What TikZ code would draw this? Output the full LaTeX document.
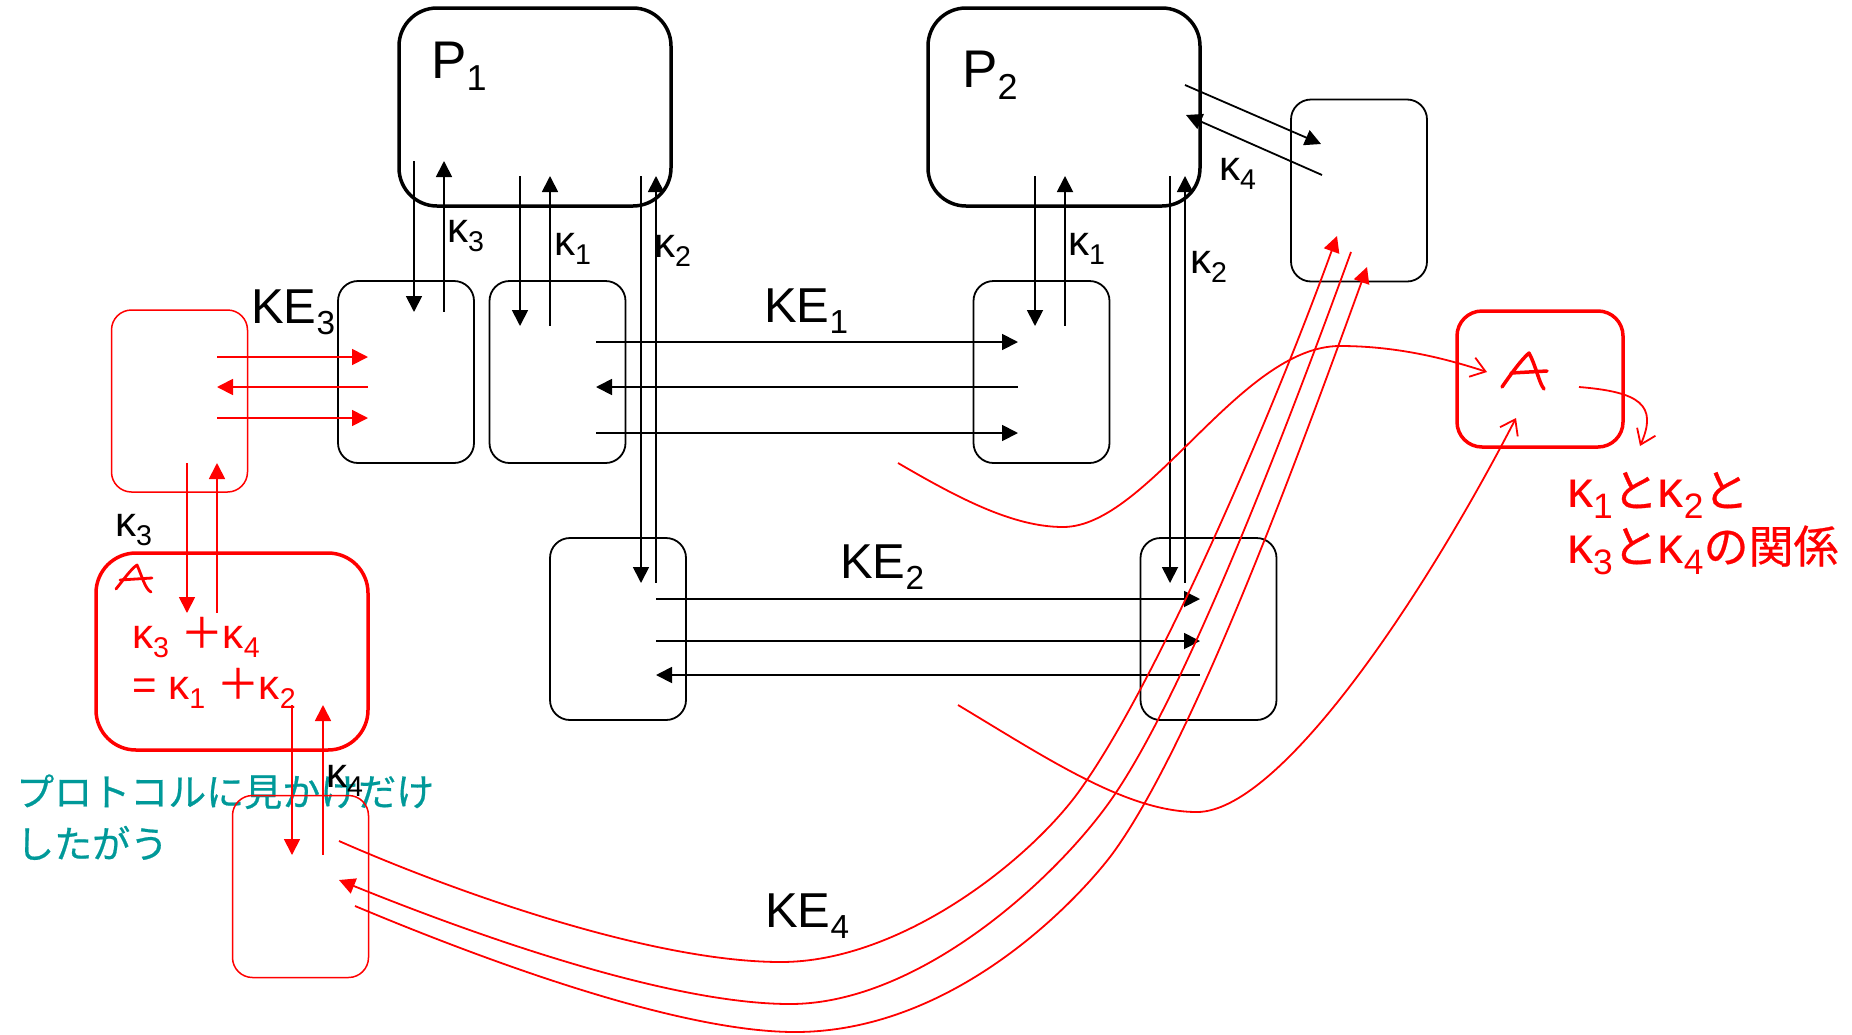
\documentclass[tikz,border=0pt]{standalone}
\usepackage{graphicx}
\usepackage{fontspec}
\setmainfont{Liberation Sans}
\newfontfamily\jp{Noto Sans CJK JP}[FakeBold=0.6]
\usetikzlibrary{arrows.meta}

\definecolor{notecyan}{RGB}{0,153,153}

% lowered index, as in P_1, KE_3
\newcommand{\idx}[1]{\raisebox{-0.23em}{\scalebox{0.68}{#1}}}
\newcommand{\kap}[1]{κ\idx{#1}}

\tikzset{
  pbox/.style={draw, line width=3.5pt, rounded corners=38pt, minimum width=272pt, minimum height=198pt, inner sep=0pt},
  kebox/.style={draw, line width=1.8pt, rounded corners=20pt, minimum width=136pt, minimum height=182pt, inner sep=0pt},
  rbox/.style={kebox, draw=red, line width=1.5pt},
  abox/.style={draw=red, line width=3.5pt, inner sep=0pt},
  link/.style={line width=1.8pt},
  rlink/.style={link, red},
  barb/.style={red, line width=1.8pt, -{Straight Barb[length=14pt,width=20pt]}},
  hand/.style={red, line width=2.8pt, line cap=round, line join=round},
  lbl/.style={inner sep=0pt, anchor=base west, font=\fontsize{42}{48}\selectfont},
  kelbl/.style={lbl, font=\fontsize{49}{56}\selectfont},
  plbl/.style={lbl, font=\fontsize{53}{60}\selectfont},
  rlbl/.style={lbl, text=red},
  rjp/.style={lbl, text=red, font=\fontsize{52}{58}\selectfont},
  note/.style={inner sep=0pt, anchor=base west, text=notecyan, font=\jp\fontsize{38}{44}\selectfont}
}
% Japanese inside the red remark
\newcommand{\rj}[1]{{\jp\fontsize{45}{52}\selectfont #1}}

\begin{document}
\begin{tikzpicture}[x=1pt, y=-1pt, >={Triangle[length=16pt,width=16pt]}]
\useasboundingbox (0,0) rectangle (1852,1034);

% remark on the left
\node[note] (note1) at (16,806) {プロトコルに見かけだけ};
\node[note] (note2) at (16,858) {したがう};

% parties
\node[pbox] (p1) at (535,107) {};
\node[pbox] (p2) at (1064,107) {};

% key exchanges
\node[kebox] (ke3) at (406,372) {};
\node[kebox] (ke1a) at (557.5,372) {};
\node[kebox] (ke1b) at (1041.5,372) {};
\node[kebox] (ke2a) at (618,629) {};
\node[kebox] (ke2b) at (1208.5,629) {};
\node[kebox] (ke4b) at (1359,190.5) {};

% adversary side
\node[rbox] (r3) at (179.5,401) {};
\node[rbox] (r4) at (300.5,886.5) {};
\node[abox, minimum width=272pt, minimum height=197pt, rounded corners=40pt] (sumA) at (232,651.5) {};
\node[abox, minimum width=166pt, minimum height=136pt, rounded corners=25pt] (relA) at (1540,379) {};

% names
\node[plbl] (lp1) at (431,78) {P\idx{1}};
\node[plbl] (lp2) at (962,87) {P\idx{2}};
\node[kelbl] (lke3) at (251,323) {KE\idx{3}};
\node[kelbl] (lke1) at (764,322) {KE\idx{1}};
\node[kelbl] (lke2) at (840,578) {KE\idx{2}};
\node[kelbl] (lke4) at (765,927) {KE\idx{4}};

% keys
\node[lbl] (lk3) at (447,242) {\kap{3}};
\node[lbl] (lk1a) at (554,255) {\kap{1}};
\node[lbl] (lk2a) at (654,257) {\kap{2}};
\node[lbl] (lk1b) at (1068,255) {\kap{1}};
\node[lbl] (lk2b) at (1190,273) {\kap{2}};
\node[lbl] (lk4) at (1219,180) {\kap{4}};
\node[lbl] (lk3r) at (115,536) {\kap{3}};
\node[lbl] (lk4r) at (326,787) {\kap{4}};

% P1 -- KE3
\coordinate (p1k3) at (414,161);
\coordinate (ke3k3) at (414,312);
\draw[link,->] (p1k3) -- (ke3k3);
\draw[link,<-] ([shift={(30,0)}]p1k3) -- ([shift={(30,0)}]ke3k3);

% P1 -- KE1
\coordinate (p1k1) at (520,176);
\coordinate (ke1k1) at (520,326);
\draw[link,->] (p1k1) -- (ke1k1);
\draw[link,<-] ([shift={(30,0)}]p1k1) -- ([shift={(30,0)}]ke1k1);

% P1 -- KE2
\coordinate (p1k2) at (641,176);
\coordinate (ke2k2) at (641,583);
\draw[link,->] (p1k2) -- (ke2k2);
\draw[link,<-] ([shift={(15,0)}]p1k2) -- ([shift={(15,0)}]ke2k2);

% P2 -- KE1
\coordinate (p2k1) at (1035,176);
\coordinate (ke1k1b) at (1035,326);
\draw[link,->] (p2k1) -- (ke1k1b);
\draw[link,<-] ([shift={(30,0)}]p2k1) -- ([shift={(30,0)}]ke1k1b);

% P2 -- KE2
\coordinate (p2k2) at (1170,176);
\coordinate (ke2k2b) at (1170,583);
\draw[link,->] (p2k2) -- (ke2k2b);
\draw[link,<-] ([shift={(15,0)}]p2k2) -- ([shift={(15,0)}]ke2k2b);

% P2 -- KE4
\coordinate (p2k4) at (1185,85);
\coordinate (ke4k4) at (1321,144);
\draw[link,->] (p2k4) -- (ke4k4);
\draw[link,<-] ([shift={(1,30)}]p2k4) -- ([shift={(1,31)}]ke4k4);

% KE1 messages
\coordinate (ke1w) at (596,342);
\coordinate (ke1e) at (1018,342);
\draw[link,->] (ke1w) -- (ke1e);
\draw[link,<-] ([shift={(0,45)}]ke1w) -- ([shift={(0,45)}]ke1e);
\draw[link,->] ([shift={(0,91)}]ke1w) -- ([shift={(0,91)}]ke1e);

% KE2 messages
\coordinate (ke2w) at (656,599);
\coordinate (ke2e) at (1200,599);
\draw[link,->] (ke2w) -- (ke2e);
\draw[link,->] ([shift={(0,42)}]ke2w) -- ([shift={(0,42)}]ke2e);
\draw[link,<-] ([shift={(0,76)}]ke2w) -- ([shift={(0,76)}]ke2e);

% KE3 messages (A in the middle)
\coordinate (ke3w) at (217,357);
\coordinate (ke3e) at (368,357);
\draw[rlink,->] (ke3w) -- (ke3e);
\draw[rlink,<-] ([shift={(0,30)}]ke3w) -- ([shift={(0,30)}]ke3e);
\draw[rlink,->] ([shift={(0,61)}]ke3w) -- ([shift={(0,61)}]ke3e);

% A passes the keys on
\coordinate (r3k3) at (187,463);
\coordinate (ak3) at (187,613);
\draw[rlink,->] (r3k3) -- (ak3);
\draw[rlink,<-] ([shift={(30,0)}]r3k3) -- ([shift={(30,0)}]ak3);
\coordinate (ak4) at (292,705);
\coordinate (r4k4) at (292,855);
\draw[rlink,->] (ak4) -- (r4k4);
\draw[rlink,<-] ([shift={(31,0)}]ak4) -- ([shift={(31,0)}]r4k4);

% KE4 messages, round the bottom
\coordinate (ke4a) at (339,841);
\coordinate (ke4b1) at (1337,236);
\coordinate (ke4c) at (339,880);
\coordinate (ke4b2) at (1351,252);
\coordinate (ke4d) at (355,906);
\coordinate (ke4b3) at (1367,267);
\draw[rlink,->] (ke4a) .. controls (450,890) and (650,962) .. (781,962)
  .. controls (901,962) and (1030,860) .. (1080,790)
  .. controls (1160,678) and (1277,402) .. (ke4b1);
\draw[rlink,<-] (ke4c) .. controls (450,925) and (660,1004) .. (790,1004)
  .. controls (920,1004) and (1058,877) .. (1113,797)
  .. controls (1188,688) and (1291,417) .. (ke4b2);
\draw[rlink,->] (ke4d) .. controls (460,950) and (670,1032) .. (795,1032)
  .. controls (960,1032) and (1085,891) .. (1113,853)
  .. controls (1193,743) and (1297,460) .. (ke4b3);

% what A learns
\coordinate (ke1out) at (898,463);
\coordinate (ain1) at (1487,372);
\coordinate (ke2out) at (958,705);
\coordinate (ain2) at (1516,418);
\draw[barb] (ke1out) .. controls (958,498) and (1013,527) .. (1063,527)
  .. controls (1148,527) and (1240,346) .. (1340,346)
  .. controls (1400,346) and (1450,360) .. (ain1);
\draw[barb] (ke2out) .. controls (1048,759) and (1127,812) .. (1197,812)
  .. controls (1277,812) and (1416,611) .. (ain2);
\coordinate (aout) at (1579,387);
\coordinate (relto) at (1640,446);
\draw[barb] (aout) .. controls (1640,392) and (1658,405) .. (relto);

% hand written A
\draw[hand] (116,589) .. controls (124,579) and (131,569) .. (137,565) .. controls (142,576) and (145,589) .. (151,592);
\draw[hand] (120,580) -- (152,578);
\draw[hand, line width=3.5pt] (1502,387) .. controls (1511,374) and (1521,360) .. (1529,353) .. controls (1536,366) and (1539,383) .. (1544,389);
\draw[hand, line width=3.5pt] (1511,373) -- (1547,371);

% what A has to keep
\node[rlbl] (sum1) at (132,648) {\kap{3} {\jp ＋}\kap{4}};
\node[rlbl] (sum2) at (132,699) {= \kap{1} {\jp ＋}\kap{2}};
\node[rjp] (rel1) at (1567,507) {\kap{1}\rj{と}\kap{2}\rj{と}};
\node[rjp] (rel2) at (1567,563) {\kap{3}\rj{と}\kap{4}\rj{の関係}};
\end{tikzpicture}
\end{document}
